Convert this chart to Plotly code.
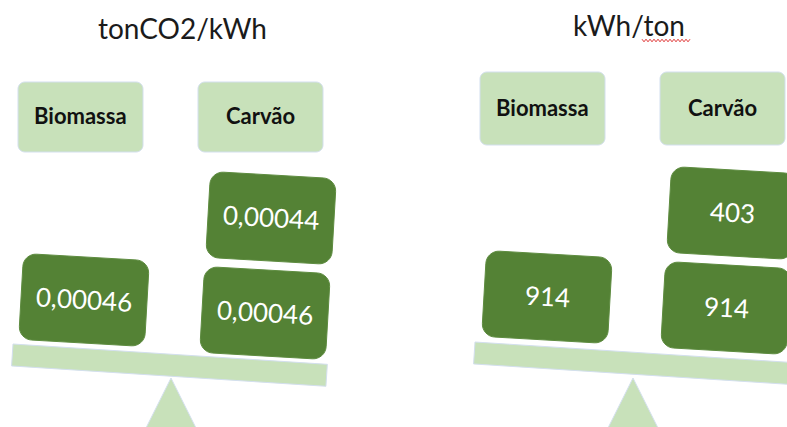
import math
import plotly.graph_objects as go

# ---- data -------------------------------------------------------------
categories = ["Biomassa", "Carvão"]
panel_titles = ["tonCO2/kWh", "kWh/ton"]

# emission factor (tonCO2 per kWh): one block for biomass, stacked blocks for coal
emissions_biomassa = [0.00046]
emissions_carvao = [0.00046, 0.00044]

# energy per ton (kWh/ton)
energia_biomassa = [914]
energia_carvao = [914, 403]

# ---- styling ----------------------------------------------------------
W, H = 787, 427
DARK = "#548235"
LIGHT = "#C8E1BA"
EDGE = "#D3DFEE"
FONT = "Lato, 'Open Sans', sans-serif"


def fmt_emission(v):
    return f"{v:.5f}".replace(".", ",")


def fmt_energy(v):
    return f"{v:d}"


def rot(cx, cy, x, y, ang):
    a = math.radians(ang)
    return cx + x * math.cos(a) - y * math.sin(a), cy + x * math.sin(a) + y * math.cos(a)


def rounded_rect_path(cx, cy, w, h, r, ang):
    """SVG path of a rounded rectangle centred at (cx, cy), rotated by ang degrees."""
    k = 0.5523 * r
    hw, hh = w / 2, h / 2
    segs = [
        ("M", [(-hw + r, -hh)]),
        ("L", [(hw - r, -hh)]),
        ("C", [(hw - r + k, -hh), (hw, -hh + r - k), (hw, -hh + r)]),
        ("L", [(hw, hh - r)]),
        ("C", [(hw, hh - r + k), (hw - r + k, hh), (hw - r, hh)]),
        ("L", [(-hw + r, hh)]),
        ("C", [(-hw + r - k, hh), (-hw, hh - r + k), (-hw, hh - r)]),
        ("L", [(-hw, -hh + r)]),
        ("C", [(-hw, -hh + r - k), (-hw + r - k, -hh), (-hw + r, -hh)]),
    ]
    out = []
    for cmd, pts in segs:
        coords = " ".join(f"{px:.2f},{py:.2f}" for px, py in (rot(cx, cy, x, y, ang) for x, y in pts))
        out.append(f"{cmd} {coords}")
    return " ".join(out) + " Z"


def poly_path(points):
    return "M " + " L ".join(f"{x:.2f},{y:.2f}" for x, y in points) + " Z"


shapes = []
annotations = []

# ---- layout of the two balances ---------------------------------------
panels = [
    dict(
        title_xy=(182, 28),
        label_boxes=[(18, 82, 143, 152), (198, 82, 323, 152)],
        label_text_y=115,
        blocks=[[(84, 300)], [(265, 313), (271, 218)]],
        values=[emissions_biomassa, emissions_carvao],
        fmt=fmt_emission,
        beam=dict(x0=13, y0=344, length=315),
        fulcrum=(171, 378),
    ),
    dict(
        title_xy=(629, 25),
        label_boxes=[(480, 72, 605, 145), (660, 72, 785, 145)],
        label_text_y=107,
        blocks=[[(547, 297)], [(726, 308), (732, 213)]],
        values=[energia_biomassa, energia_carvao],
        fmt=fmt_energy,
        beam=dict(x0=475, y0=342, length=330),
        fulcrum=(633, 378),
    ),
]

BLOCK_W, BLOCK_H, BLOCK_R, BLOCK_ANG = 126, 86, 13, 3.3
BEAM_T, BEAM_ANG = 22, 3.7

for title, p in zip(panel_titles, panels):
    # heading
    annotations.append(dict(
        x=p["title_xy"][0], y=p["title_xy"][1], xref="x", yref="y",
        text=title, showarrow=False,
        font=dict(family=FONT, size=28, color="#1b1b1b"),
        xanchor="center", yanchor="middle",
    ))

    # fulcrum
    ax, ay = p["fulcrum"]
    shapes.append(dict(
        type="path", xref="x", yref="y", layer="below",
        path=poly_path([(ax, ay), (ax + 31, ay + 62), (ax - 31, ay + 62)]),
        fillcolor=LIGHT, line=dict(color=EDGE, width=1),
    ))

    # beam
    b = p["beam"]
    a = math.radians(BEAM_ANG)
    ux, uy = math.cos(a), math.sin(a)
    nx, ny = -math.sin(a), math.cos(a)
    tl = (b["x0"], b["y0"])
    tr = (b["x0"] + b["length"] * ux, b["y0"] + b["length"] * uy)
    br = (tr[0] + BEAM_T * nx, tr[1] + BEAM_T * ny)
    bl = (tl[0] + BEAM_T * nx, tl[1] + BEAM_T * ny)
    shapes.append(dict(
        type="path", xref="x", yref="y", layer="below",
        path=poly_path([tl, tr, br, bl]),
        fillcolor=LIGHT, line=dict(color=EDGE, width=1),
    ))

    # category labels
    for cat, (x0, y0, x1, y1) in zip(categories, p["label_boxes"]):
        shapes.append(dict(
            type="path", xref="x", yref="y", layer="below",
            path=rounded_rect_path((x0 + x1) / 2, (y0 + y1) / 2, x1 - x0, y1 - y0, 7, 0),
            fillcolor=LIGHT, line=dict(color=EDGE, width=1),
        ))
        annotations.append(dict(
            x=(x0 + x1) / 2, y=p["label_text_y"], xref="x", yref="y",
            text=f"<b>{cat}</b>", showarrow=False,
            font=dict(family=FONT, size=22, color="#111111"),
            xanchor="center", yanchor="middle",
        ))

    # value blocks stacked on the beam
    for centres, vals in zip(p["blocks"], p["values"]):
        for (cx, cy), v in zip(centres, vals):
            shapes.append(dict(
                type="path", xref="x", yref="y",
                path=rounded_rect_path(cx, cy, BLOCK_W, BLOCK_H, BLOCK_R, BLOCK_ANG),
                fillcolor=DARK, line=dict(color="#5E8C40", width=1),
            ))
            annotations.append(dict(
                x=cx, y=cy - 1, xref="x", yref="y",
                text=p["fmt"](v), showarrow=False, textangle=BLOCK_ANG,
                font=dict(family=FONT, size=26, color="white"),
                xanchor="center", yanchor="middle",
            ))

# spell-check squiggle under "ton"
wave = []
x = 642.0
i = 0
while x <= 690:
    wave.append((x, 40.5 + (1.3 if i % 2 else -1.3)))
    x += 2.0
    i += 1
shapes.append(dict(
    type="path", xref="x", yref="y",
    path="M " + " L ".join(f"{px:.1f},{py:.1f}" for px, py in wave),
    line=dict(color="#E03A3A", width=1),
))

fig = go.Figure()
fig.add_trace(go.Scatter(x=[0, W], y=[0, H], mode="markers",
                         marker=dict(opacity=0), hoverinfo="skip", showlegend=False))
fig.update_layout(
    width=W, height=H,
    margin=dict(l=0, r=0, t=0, b=0),
    paper_bgcolor="white", plot_bgcolor="white",
    xaxis=dict(range=[0, W], visible=False, fixedrange=True),
    yaxis=dict(range=[H, 0], visible=False, fixedrange=True),
    shapes=shapes, annotations=annotations,
    showlegend=False,
)
fig.write_html("out.html")
